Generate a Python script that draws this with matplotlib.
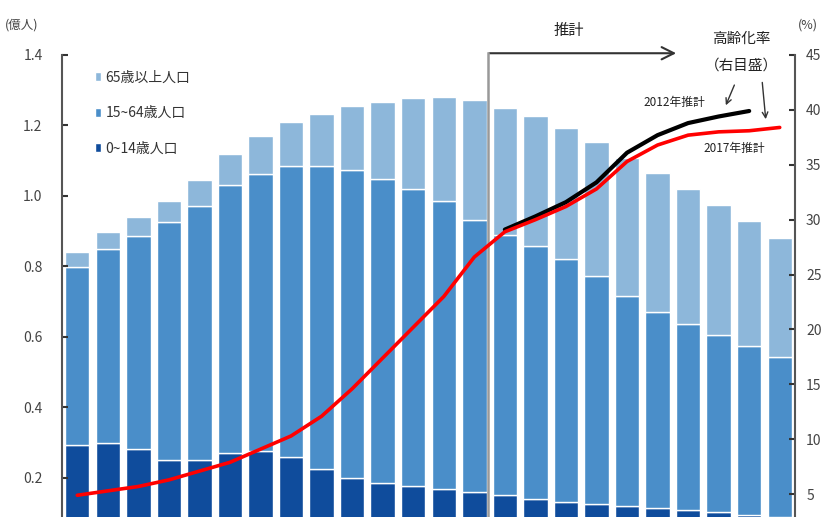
import matplotlib
matplotlib.use('Agg')
import matplotlib.pyplot as plt
import numpy as np

plt.rcParams['font.family'] = ['Noto Sans CJK JP', 'DejaVu Sans']

# 1950 .. 2065, every 5 years (units: 億人)
years = list(range(1950, 2070, 5))
pop_0_14 = [0.294, 0.298, 0.281, 0.250, 0.250, 0.272, 0.275, 0.260, 0.225, 0.200,
            0.185, 0.176, 0.168, 0.159, 0.151, 0.141, 0.132, 0.125, 0.119, 0.114,
            0.108, 0.102, 0.095, 0.090]
pop_15_64 = [0.505, 0.552, 0.606, 0.675, 0.721, 0.758, 0.788, 0.825, 0.859, 0.873,
             0.862, 0.844, 0.817, 0.773, 0.738, 0.717, 0.688, 0.649, 0.598, 0.558,
             0.528, 0.503, 0.479, 0.453]
pop_65_over = [0.041, 0.048, 0.054, 0.062, 0.073, 0.089, 0.106, 0.125, 0.149, 0.183,
               0.220, 0.258, 0.295, 0.339, 0.362, 0.368, 0.372, 0.378, 0.392, 0.392,
               0.384, 0.370, 0.354, 0.338]

# 高齢化率 (%)
aging_2017 = [4.9, 5.3, 5.7, 6.3, 7.1, 7.9, 9.1, 10.3, 12.1, 14.6,
              17.4, 20.2, 23.0, 26.6, 28.9, 30.0, 31.2, 32.8, 35.3, 36.8,
              37.7, 38.0, 38.1, 38.4]
years_2012 = [2020, 2025, 2030, 2035, 2040, 2045, 2050, 2055, 2060]
aging_2012 = [29.1, 30.3, 31.6, 33.4, 36.1, 37.7, 38.8, 39.4, 39.9]

labels = ['0~14歳人口', '15~64歳人口', '65歳以上人口']
colors = ['#0f4c9c', '#4a8ec9', '#8db7da']


def main():
    fig = plt.figure(figsize=(8.25, 5.17), dpi=100)
    ax = fig.add_axes([62 / 825, 0, (795 - 62) / 825, (517 - 55) / 517])

    x = np.arange(len(years))
    b1 = np.array(pop_0_14)
    b2 = b1 + np.array(pop_15_64)

    h0 = ax.bar(x, pop_0_14, width=0.8, color=colors[0], edgecolor='white', linewidth=1)
    h1 = ax.bar(x, pop_15_64, bottom=b1, width=0.8, color=colors[1], edgecolor='white', linewidth=1)
    h2 = ax.bar(x, pop_65_over, bottom=b2, width=0.8, color=colors[2], edgecolor='white', linewidth=1)

    ax.set_xlim(-0.5, len(years) - 0.5)
    ax.set_ylim(0.089, 1.4)
    ax.set_yticks([0.2, 0.4, 0.6, 0.8, 1.0, 1.2, 1.4])
    ax.set_yticklabels(['0.2', '0.4', '0.6', '0.8', '1.0', '1.2', '1.4'])
    ax.set_xticks([])

    for s in ['top', 'right', 'bottom']:
        ax.spines[s].set_visible(False)
    ax.spines['left'].set_color('#555555')
    ax.spines['left'].set_linewidth(1.5)
    ax.tick_params(axis='y', direction='in', length=4, width=1.5, pad=14,
                   labelsize=10, labelcolor='#444444', color='#333333')

    # right axis: 高齢化率
    ax2 = ax.twinx()
    ax2.set_ylim(2.92, 45)
    ax2.set_yticks([5, 10, 15, 20, 25, 30, 35, 40, 45])
    for s in ['top', 'left', 'bottom']:
        ax2.spines[s].set_visible(False)
    ax2.spines['right'].set_color('#555555')
    ax2.spines['right'].set_linewidth(1.5)
    ax2.tick_params(axis='y', direction='in', length=4, width=1.5, pad=8,
                    labelsize=10, labelcolor='#444444', color='#333333')

    x12 = [years.index(y) for y in years_2012]
    ax2.plot(x12, aging_2012, color='black', linewidth=3, solid_capstyle='round')
    ax2.plot(x, aging_2017, color='#ff0000', linewidth=2.6, solid_capstyle='round')

    # 推計 marker
    ax.plot([13.45, 13.45], [0, 1.405], color='#999999', linewidth=1.8, clip_on=False, zorder=5)
    ax.annotate('', xy=(19.7, 1.405), xytext=(13.4, 1.405), annotation_clip=False,
                arrowprops=dict(arrowstyle='->', color='#333333', lw=1.5, mutation_scale=22))
    ax.text(16.1, 1.47, '推計', ha='center', va='center', fontsize=11, color='#222222')

    ax.text(21.75, 1.446, '高齢化率', ha='center', va='center', fontsize=10.5, color='#222222')
    ax.text(21.75, 1.370, '（右目盛）', ha='center', va='center', fontsize=10.5, color='#222222')
    ax.annotate('', xy=(21.2, 1.25), xytext=(21.55, 1.322), annotation_clip=False,
                arrowprops=dict(arrowstyle='->', color='#333333', lw=1))
    ax.annotate('', xy=(22.55, 1.21), xytext=(22.42, 1.33), annotation_clip=False,
                arrowprops=dict(arrowstyle='->', color='#333333', lw=1))
    ax.text(19.55, 1.264, '2012年推計', ha='center', va='center', fontsize=8.5, color='#222222')
    ax.text(21.5, 1.136, '2017年推計', ha='center', va='center', fontsize=8.5, color='#222222')

    fig.text(22 / 825, 1 - 25 / 517, '(億人)', ha='center', va='center', fontsize=9, color='#444444')
    fig.text(808 / 825, 1 - 25 / 517, '(%)', ha='center', va='center', fontsize=9, color='#444444')

    ax.legend([h2, h1, h0], [labels[2], labels[1], labels[0]], loc='upper left',
              bbox_to_anchor=(82 / 825, 1 - 58 / 517), bbox_transform=fig.transFigure,
              frameon=False, handlelength=0.5, handleheight=0.6, handletextpad=0.3,
              labelspacing=1.55, fontsize=10, labelcolor='#333333')

    fig.savefig('out.png', dpi=100)


if __name__ == '__main__':
    main()
